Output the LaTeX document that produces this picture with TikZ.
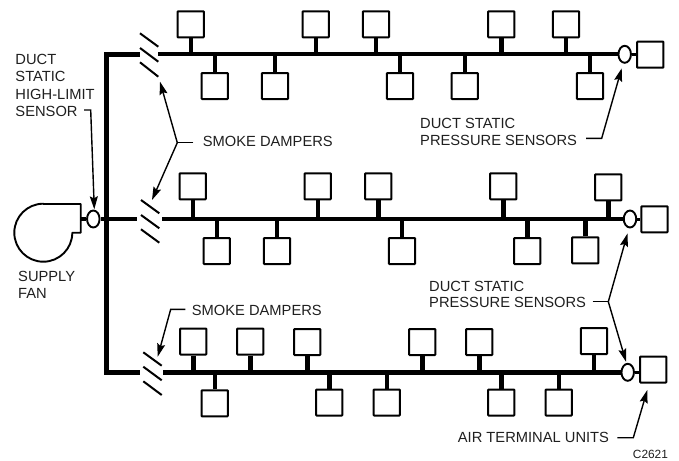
\documentclass[tikz,border=0pt]{standalone}
\usepackage{fontspec}
\setmainfont{Liberation Sans}
\usetikzlibrary{arrows.meta,shapes.geometric}
\definecolor{inkc}{gray}{0.12}
\tikzset{
  x=1pt,y=-1pt,
  termbox/.style={draw,line width=2pt,rounded corners=0.6pt,minimum width=26.2pt,minimum height=26pt,inner sep=0pt,fill=white},
  sensor/.style={draw,line width=1.9pt,ellipse,minimum width=12.5pt,minimum height=17pt,inner sep=0pt,fill=white},
  duct/.style={line width=4.4pt},
  mainduct/.style={line width=5.2pt,line cap=rect},
  stem/.style={line width=4.4pt},
  blade/.style={line width=2pt},
  leader/.style={line width=1.4pt},
  arrowleader/.style={line width=1.4pt,-{Stealth[length=13pt,width=8pt,inset=2pt]}},
  lbl/.style={inner sep=0pt,anchor=base west,text=inkc,font=\fontsize{14.7pt}{17.3pt}\selectfont},
  small/.style={inner sep=0pt,anchor=base west,text=inkc,font=\fontsize{11.9pt}{13pt}\selectfont},
}
\begin{document}
\begin{tikzpicture}
\useasboundingbox (0,0) rectangle (679,460);
% main duct corners
\coordinate (mt) at (106.7,54.3);
\coordinate (mm) at (106.7,219);
\coordinate (mb) at (106.7,372.3);
% damper gaps
\coordinate (gt1) at (137,54.3);  \coordinate (gt2) at (158,54.3);
\coordinate (gm1) at (137,219);   \coordinate (gm2) at (162,219);
\coordinate (gb1) at (137.7,372.3); \coordinate (gb2) at (163.3,372.3);
% sensors
\node[sensor] (st) at (624.7,54.3) {};
\node[sensor] (sm) at (630,219) {};
\node[sensor] (sb) at (627.7,372.3) {};
\node[sensor] (sf) at (93.3,219) {};
% end units
\node[termbox] (et) at (650.3,54.7) {};
\node[termbox] (em) at (654.5,219.3) {};
\node[termbox] (eb) at (653.3,369.5) {};
% ducts
\draw[mainduct] (mt) -- (mb);
\draw[duct] (mm) -- (sf.east);
\draw[mainduct] (mt) -- (gt1);
\draw[duct] (mm) -- (gm1);
\draw[mainduct] (mb) -- (gb1);
\draw[duct] (gt2) -- (st.west);
\draw[duct] (gm2) -- (sm.west);
\draw[duct] (gb2) -- (sb.west);
\draw[line width=3pt] (st.east) -- (et.west |- st.east);
\draw[line width=3pt] (sm.east) -- (em.west |- sm.east);
\draw[line width=3pt] (sb.east) -- (eb.west |- sb.east);
% terminal boxes: top row
\foreach \n/\x in {a/190.7,b/315.7,c/376,d/501.3,e/566}{
  \node[termbox] (tu\n) at (\x,24.3) {};
  \draw[stem] (tu\n.south) -- (tu\n.south |- mt);
}
\foreach \n/\x in {a/214.7,b/275,c/400,d/464.7,e/590}{
  \node[termbox] (tl\n) at (\x,86) {};
  \draw[stem] (tl\n.north) -- (tl\n.north |- mt);
}
% middle row
\foreach \n/\x/\y in {a/192.7/186.3,b/317.7/186.3,c/378.3/186.3,d/503.3/186.3,e/608.3/187.3}{
  \node[termbox] (mu\n) at (\x,\y) {};
  \draw[stem] (mu\n.south) -- (mu\n.south |- mm);
}
\foreach \n/\x/\y in {a/216.7/251,b/277/251,c/402/251,d/527.3/251,e/585.3/250.3}{
  \node[termbox] (ml\n) at (\x,\y) {};
  \draw[stem] (ml\n.north) -- (ml\n.north |- mm);
}
% bottom row
\foreach \n/\x/\y in {a/193.3/341.5,b/250.3/341.5,c/307.3/342,d/422.3/342,e/479.3/342,f/594/341}{
  \node[termbox] (bu\n) at (\x,\y) {};
  \draw[stem] (bu\n.south) -- (bu\n.south |- mb);
}
\foreach \n/\x/\y in {a/214.7/403.3,b/329.3/402.5,c/386.7/402.5,d/501.3/402.5,e/558.7/402.5}{
  \node[termbox] (bl\n) at (\x,\y) {};
  \draw[stem] (bl\n.north) -- (bl\n.north |- mb);
}
% smoke dampers
\foreach \a/\b/\c/\d in {140/33.3/158.3/46.7, 140/48/158.3/61.7, 140/62.3/158.3/76.7,
                         141/200/159.3/213.3, 141/215/159.3/228.3, 141/229.3/159.3/242.7,
                         143.3/352.3/161.7/365.7, 143.3/366.7/161.7/380.3, 143.3/381.3/161.7/395}{
  \draw[blade] (\a,\b) -- (\c,\d);
}
% fan
\draw[line width=1.9pt,line join=round] (43.3,204) -- (80.7,204) -- (80.7,232.7) -- (72.3,232.7)
   arc[start angle=0,end angle=270,x radius=29pt,y radius=-29pt] -- cycle;
\draw[line width=3.4pt] (80.7,219) -- (sf.west);
% labels
\node[lbl] (l1) at (15.3,64) {DUCT};
\node[lbl] (l2) at (15.3,81.3) {STATIC};
\node[lbl] (l3) at (15.3,99) {HIGH-LIMIT};
\node[lbl] (l4) at (15.3,116) {SENSOR};
\node[lbl] (l5) at (202.7,146) {SMOKE DAMPERS};
\node[lbl] (l6) at (18,281) {SUPPLY};
\node[lbl] (l7) at (18,298) {FAN};
\node[lbl] (l8) at (191.7,315.3) {SMOKE DAMPERS};
\node[lbl] (l9) at (420,128.3) {DUCT STATIC};
\node[lbl] (l10) at (420,145) {PRESSURE SENSORS};
\node[lbl] (l11) at (429,291) {DUCT STATIC};
\node[lbl] (l12) at (429,307.7) {PRESSURE SENSORS};
\node[lbl] (l13) at (457.7,442.7) {AIR TERMINAL UNITS};
\node[small] (l14) at (632.7,458) {C2621};
% leaders
\coordinate (j1) at (177.3,142.7);
\coordinate (j2) at (608.3,301.7);
\draw[arrowleader] (84,110) -- (90.7,110) -- (94.3,209.3);
\draw[leader] (193.3,142.7) -- (j1);
\draw[arrowleader] (j1) -- (160,81.7);
\draw[arrowleader] (j1) -- (152,200);
\draw[arrowleader] (185.3,309.3) -- (170.7,309.3) -- (157.7,356.7);
\draw[arrowleader] (586,138.3) -- (601.7,138.3) -- (621.7,68.3);
\draw[leader] (592.7,301.7) -- (j2);
\draw[arrowleader] (j2) -- (627.5,233.5);
\draw[arrowleader] (j2) -- (626,361.7);
\draw[arrowleader] (617.3,437.7) -- (633.3,437.7) -- (647.3,390);
\end{tikzpicture}
\end{document}
